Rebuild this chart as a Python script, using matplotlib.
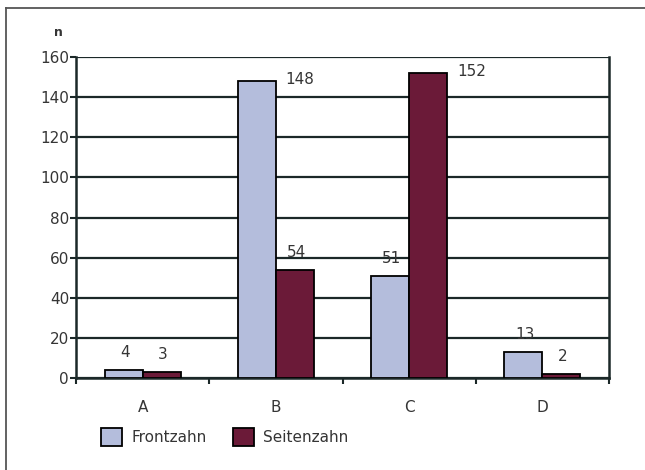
import numpy as np
import matplotlib.pyplot as plt
from matplotlib.patches import Patch
from matplotlib.lines import Line2D

# Anzahl pro Kategorie, Front- vs. Seitenzahn
kategorien = ['A', 'B', 'C', 'D']
frontzahn = [4, 148, 51, 13]
seitenzahn = [3, 54, 152, 2]
y_ticks = [0, 20, 40, 60, 80, 100, 120, 140, 160]

farbe_front = '#b4bddc'
farbe_seite = '#6b1a38'
linie = '#1b2828'
text_farbe = '#353535'

fig = plt.figure(figsize=(6.45, 4.70), dpi=100)
ax = fig.add_axes([76/645, 1 - 378/470, (609 - 76)/645, (378 - 57)/470])

x = np.arange(len(kategorien))
w = 0.285
b1 = ax.bar(x - w/2, frontzahn, w, color=farbe_front, edgecolor='black', linewidth=1.3, zorder=3)
b2 = ax.bar(x + w/2, seitenzahn, w, color=farbe_seite, edgecolor='black', linewidth=1.3, zorder=3)

# Werte an die Balken schreiben, hohe Balken seitlich
for bars, vals in [(b1, frontzahn), (b2, seitenzahn)]:
    for r, v in zip(bars, vals):
        if v > 140:
            ax.annotate(str(v), (r.get_x() + r.get_width(), v), xytext=(7, 1),
                        textcoords='offset points', ha='left', va='center',
                        fontsize=11, color=text_farbe, zorder=4)
        else:
            ax.annotate(str(v), (r.get_x() + r.get_width()/2, v), xytext=(1, 7),
                        textcoords='offset points', ha='center', va='bottom',
                        fontsize=11, color=text_farbe, zorder=4)

ax.set_xlim(-0.5, 3.5)
ax.set_ylim(0, 160)
ax.set_yticks(y_ticks)
ax.set_yticklabels([str(t) for t in y_ticks], fontsize=11, color=text_farbe)
ax.yaxis.grid(True, color=linie, linewidth=1.6, zorder=1)
ax.set_axisbelow(True)

# Striche an den Kategoriegrenzen, Beschriftung in der Mitte
ax.set_xticks(np.arange(-0.5, 4, 1.0))
ax.set_xticklabels([])
ax.set_xticks(x, minor=True)
ax.set_xticklabels(kategorien, minor=True, fontsize=11, color=text_farbe)
ax.tick_params(axis='x', which='major', length=4, width=1.5, color=linie, direction='out')
ax.tick_params(axis='x', which='minor', length=0, pad=16)
ax.tick_params(axis='y', length=4, width=1.5, color=linie, pad=1)

for s in ['left', 'right', 'bottom']:
    ax.spines[s].set_color(linie)
    ax.spines[s].set_linewidth(1.8)
ax.spines['top'].set_visible(False)

fig.text(58/645, 1 - 32/470, 'n', fontsize=9, fontweight='bold', color=text_farbe,
         ha='center', va='center')

handles = [Patch(facecolor=farbe_front, edgecolor='black', linewidth=1.3),
           Patch(facecolor=farbe_seite, edgecolor='black', linewidth=1.3)]
fig.legend(handles, ['Frontzahn', 'Seitenzahn'], loc='center left',
           bbox_to_anchor=(101/645, 1 - 437/470), ncol=2, frameon=False,
           fontsize=11, handlelength=1.4, handleheight=1.4, handletextpad=0.6,
           columnspacing=1.7, borderpad=0, borderaxespad=0, labelcolor=text_farbe)

# Rahmen oben und links
fig.add_artist(Line2D([6/645, 6/645], [0, 1 - 8/470], transform=fig.transFigure,
                      color='#555555', linewidth=1.3))
fig.add_artist(Line2D([6/645, 1], [1 - 8/470, 1 - 8/470], transform=fig.transFigure,
                      color='#555555', linewidth=1.3))

fig.savefig('out.png', dpi=100)
